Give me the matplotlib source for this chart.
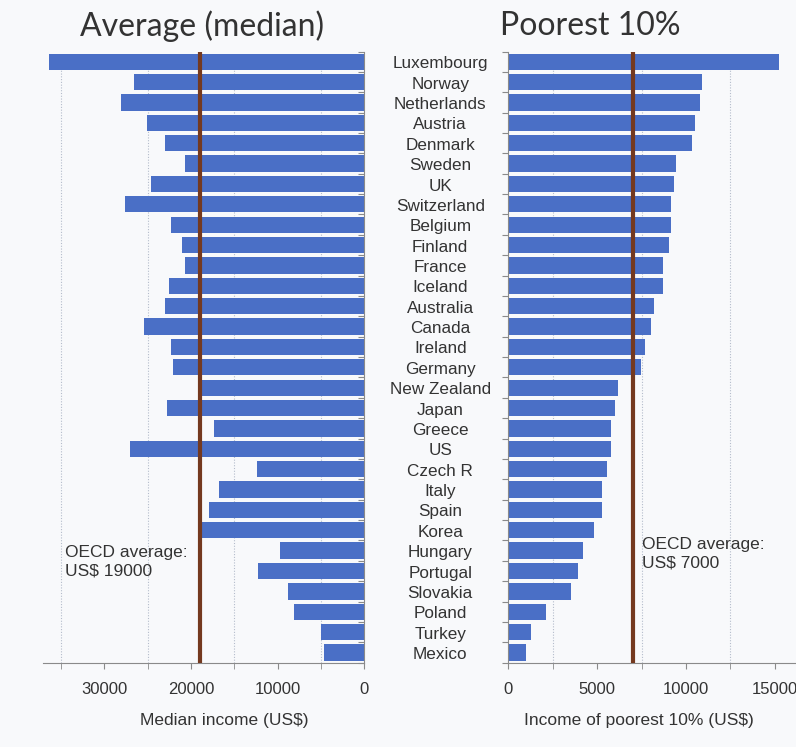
import matplotlib as mpl
mpl.use("Agg")
import matplotlib.pyplot as plt
import numpy as np

# --- Datos: ingreso mediano y del 10% más pobre (US$) ---
countries = [
    "Luxembourg", "Norway", "Netherlands", "Austria", "Denmark", "Sweden",
    "UK", "Switzerland", "Belgium", "Finland", "France", "Iceland",
    "Australia", "Canada", "Ireland", "Germany", "New Zealand", "Japan",
    "Greece", "US", "Czech R", "Italy", "Spain", "Korea", "Hungary",
    "Portugal", "Slovakia", "Poland", "Turkey", "Mexico",
]
median_income = [
    36350, 26650, 28100, 25100, 23000, 20700,
    24650, 27650, 22350, 21050, 20700, 22550,
    23050, 25400, 22350, 22050, 19250, 22800,
    17300, 27000, 12400, 16750, 17900, 19250, 9750,
    12250, 8850, 8100, 5050, 4650,
]
poorest_income = [
    15250, 10900, 10800, 10500, 10350, 9450,
    9300, 9150, 9150, 9050, 8700, 8700,
    8200, 8050, 7700, 7450, 6150, 6000,
    5800, 5800, 5550, 5250, 5250, 4800, 4200,
    3950, 3550, 2100, 1300, 1000,
]
oecd_median = 19000
oecd_poorest = 7000

BAR = "#4a6fc6"
AVG = "#74391f"
TXT = "#333333"
BG = "#f8f9fb"
GRID = "#b4bccb"

W, H = 796, 747
fig = plt.figure(figsize=(W / 100, H / 100), dpi=100)
fig.patch.set_facecolor(BG)

y = np.arange(len(countries))
edges = np.arange(len(countries) + 1) - 0.5


def px_axes(x0, x1, top, bottom):
    return fig.add_axes([x0 / W, 1 - bottom / H, (x1 - x0) / W, (bottom - top) / H])


def style(ax, grid_step):
    ax.set_facecolor(BG)
    ax.set_ylim(len(countries) - 0.5, -0.5)
    ax.set_xticks(np.arange(0, 40001, grid_step), minor=True)
    ax.grid(True, axis="x", which="minor", color=GRID, linestyle=(0, (1, 1.5)), linewidth=0.8)
    ax.set_axisbelow(True)
    for s in ["top", "left", "right", "bottom"]:
        ax.spines[s].set_visible(False)
    ax.spines["bottom"].set_visible(True)
    ax.spines["bottom"].set_color("#8a8a8a")
    ax.tick_params(axis="x", which="both", length=4, color="#8a8a8a",
                   labelsize=12, labelcolor=TXT, pad=10)
    ax.set_yticks(edges)
    ax.set_yticklabels([])


# --- Panel izquierdo: mediana ---
axl = px_axes(43, 364.3, 51.5, 662.7)
style(axl, 5000)
axl.barh(y, median_income, height=0.8, color=BAR, zorder=2)
axl.axvline(oecd_median, color=AVG, linewidth=3, zorder=3)
axl.set_xlim(37100, 0)
axl.set_xticks([30000, 20000, 10000, 0])
axl.set_xticklabels(["30000", "20000", "10000", "0"], fontfamily="Liberation Sans")
axl.spines["right"].set_visible(True)
axl.spines["right"].set_color("#8a8a8a")
axl.yaxis.tick_right()
axl.tick_params(axis="y", direction="in", length=4, color="#8a8a8a")
axl.set_xlabel("Median income (US$)", fontsize=12.5, color=TXT,
               fontfamily="Liberation Sans")
axl.xaxis.set_label_coords(0.565, -0.083)
axl.text(0.07, 0.165, "OECD average:\nUS$ 19000", transform=axl.transAxes,
         fontsize=12.5, color=TXT, fontfamily="Liberation Sans",
         linespacing=1.25, va="center", ha="left")

# --- Panel derecho: 10% más pobre ---
axr = px_axes(508.3, 801.5, 51.5, 662.7)
style(axr, 2500)
axr.barh(y, poorest_income, height=0.8, color=BAR, zorder=2)
axr.axvline(oecd_poorest, color=AVG, linewidth=3, zorder=3)
axr.set_xlim(0, 16500)
axr.set_xticks([0, 5000, 10000, 15000])
axr.set_xticklabels(["0", "5000", "10000", "15000"], fontfamily="Liberation Sans")
axr.spines["left"].set_visible(True)
axr.spines["left"].set_color("#8a8a8a")
axr.tick_params(axis="y", direction="out", length=4, color="#8a8a8a")
axr.set_xlabel("Income of poorest 10% (US$)", fontsize=12.5, color=TXT,
               fontfamily="Liberation Sans")
axr.xaxis.set_label_coords(0.447, -0.083)
axr.text(0.455, 0.178, "OECD average:\nUS$ 7000", transform=axr.transAxes,
         fontsize=12.5, color=TXT, fontfamily="Liberation Sans",
         linespacing=1.25, va="center", ha="left")

# Nombres de países en la columna central
for i, name in enumerate(countries):
    axr.annotate(name, xy=(0, i), xycoords=("axes fraction", "data"),
                 xytext=(-49, -1.5), textcoords="offset points",
                 ha="center", va="center", fontsize=12.3, color=TXT,
                 fontfamily="Liberation Sans")

# Títulos
fig.text(202 / W, 1 - 26 / H, "Average (median)", fontsize=23, color=TXT,
         fontfamily="Lato", ha="center", va="center")
fig.text(590 / W, 1 - 26 / H, "Poorest 10%", fontsize=23, color=TXT,
         fontfamily="Lato", ha="center", va="center")

fig.savefig("out.png", dpi=100, facecolor=BG)
plt.close(fig)
